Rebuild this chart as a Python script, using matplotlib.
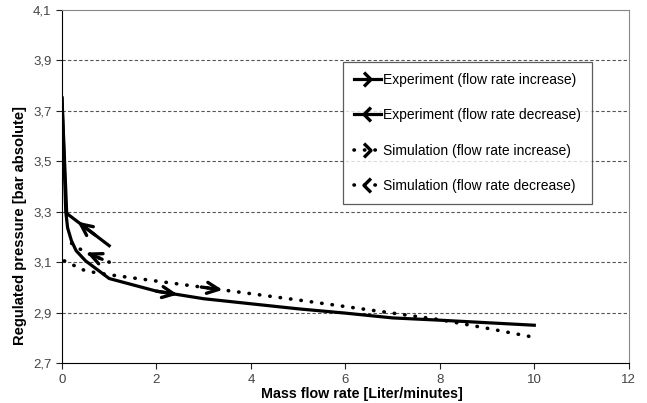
import numpy as np
import matplotlib
matplotlib.use("Agg")
import matplotlib.pyplot as plt
from matplotlib.path import Path
from matplotlib.lines import Line2D

plt.rcParams['font.family'] = ['Liberation Sans', 'DejaVu Sans']

# experiment, flow rate increase
exp_inc_x = [0, 0.08, 0.12, 0.2, 0.3, 0.5, 1, 2, 3, 4, 5, 6, 7, 8, 9, 10]
exp_inc_y = [3.75, 3.30, 3.235, 3.185, 3.145, 3.105, 3.035, 2.985, 2.955, 2.935,
             2.915, 2.898, 2.879, 2.870, 2.860, 2.850]
# experiment, flow rate decrease
exp_dec_x = [1.0, 0.1, 0.0]
exp_dec_y = [3.165, 3.293, 3.75]
# simulation, flow rate increase
sim_inc_x = [0.05, 0.5, 1, 2, 3, 4, 5, 6, 7, 8, 9, 10]
sim_inc_y = [3.105, 3.065, 3.05, 3.025, 3.0, 2.975, 2.95, 2.924, 2.898, 2.872, 2.838, 2.802]
# simulation, flow rate decrease
sim_dec_x = [1.0, 0.6, 0.3, 0.1]
sim_dec_y = [3.10, 3.13, 3.16, 3.19]

labels = ["Experiment (flow rate increase)", "Experiment (flow rate decrease)",
          "Simulation (flow rate increase)", "Simulation (flow rate decrease)"]

# where the direction arrows sit along each curve (tail x, tip x)
arrow_spots = [(exp_inc_x, exp_inc_y, 2.0, 2.45),
               (exp_dec_x, exp_dec_y, 0.7, 0.33),
               (sim_inc_x, sim_inc_y, 2.95, 3.4),
               (sim_dec_x, sim_dec_y, 0.85, 0.52)]

x_ticks = [0, 2, 4, 6, 8, 10, 12]
y_ticks = [2.7, 2.9, 3.1, 3.3, 3.5, 3.7, 3.9, 4.1]

fig = plt.figure(figsize=(6.47, 4.03), dpi=100)
ax = fig.add_axes([0.0958, 0.099, 0.876, 0.877])

dots = (0, (0.1, 2.8))
ax.plot(exp_inc_x, exp_inc_y, color='black', lw=2.3)
ax.plot(exp_dec_x, exp_dec_y, color='black', lw=2.3)
ax.plot(sim_inc_x, sim_inc_y, color='black', lw=2.6, linestyle=dots, dash_capstyle='round')
ax.plot(sim_dec_x, sim_dec_y, color='black', lw=2.6, linestyle=dots, dash_capstyle='round')

for xs, ys, x0, x1 in arrow_spots:
    order = np.argsort(xs)
    xp = np.array(xs)[order]
    yp = np.array(ys)[order]
    tail = (x0, np.interp(x0, xp, yp))
    tip = (x1, np.interp(x1, xp, yp))
    ax.annotate('', xy=tip, xytext=tail,
                arrowprops=dict(arrowstyle='->,head_length=0.7,head_width=0.33',
                                lw=2.4, color='black', mutation_scale=12,
                                shrinkA=0, shrinkB=0))

ax.set_xlim(0, 12)
ax.set_ylim(2.7, 4.1)
ax.set_xticks(x_ticks)
ax.set_yticks(y_ticks)
ax.set_xticklabels([str(v) for v in x_ticks])
ax.set_yticklabels([f"{v:.1f}".replace('.', ',') for v in y_ticks])
ax.tick_params(labelsize=9.5, colors='#222222', labelcolor='#444444', length=4, width=0.8)

for v in y_ticks[1:-1]:
    ax.axhline(v, color='#555555', lw=0.8, linestyle=(0, (3, 2)), zorder=0)
ax.spines['top'].set_color('#888888')
ax.spines['right'].set_color('#888888')
ax.spines['left'].set_color('black')
ax.spines['bottom'].set_color('black')

ax.set_xlabel("Mass flow rate [Liter/minutes]", fontsize=10.3, fontweight='bold')
ax.set_ylabel("Regulated pressure [bar absolute]", fontsize=10.6, fontweight='bold')
ax.xaxis.set_label_coords(0.53, -0.068)
ax.yaxis.set_label_coords(-0.062, 0.39)

right_head = Path([(-0.5, 1), (0.5, 0), (-0.5, -1)])
left_head = Path([(0.5, 1), (-0.5, 0), (0.5, -1)])
handles = [
    Line2D([], [], color='black', lw=2.3, marker=right_head, markersize=10,
           markerfacecolor='none', markeredgewidth=2.4),
    Line2D([], [], color='black', lw=2.3, marker=left_head, markersize=10,
           markerfacecolor='none', markeredgewidth=2.4),
    Line2D([], [], color='black', lw=2.6, linestyle=dots, dash_capstyle='round',
           marker=right_head, markersize=10, markerfacecolor='none', markeredgewidth=2.4),
    Line2D([], [], color='black', lw=2.6, linestyle=dots, dash_capstyle='round',
           marker=left_head, markersize=10, markerfacecolor='none', markeredgewidth=2.4),
]
leg = ax.legend(handles, labels, loc='upper left', bbox_to_anchor=(0.496, 0.851),
                borderaxespad=0, fontsize=10, frameon=True, fancybox=False,
                labelspacing=1.55, borderpad=0.75, handlelength=2.0, handletextpad=0.15,
                numpoints=1)
leg.get_frame().set_edgecolor('#333333')
leg.get_frame().set_linewidth(0.9)

fig.savefig("out.png", dpi=100)
